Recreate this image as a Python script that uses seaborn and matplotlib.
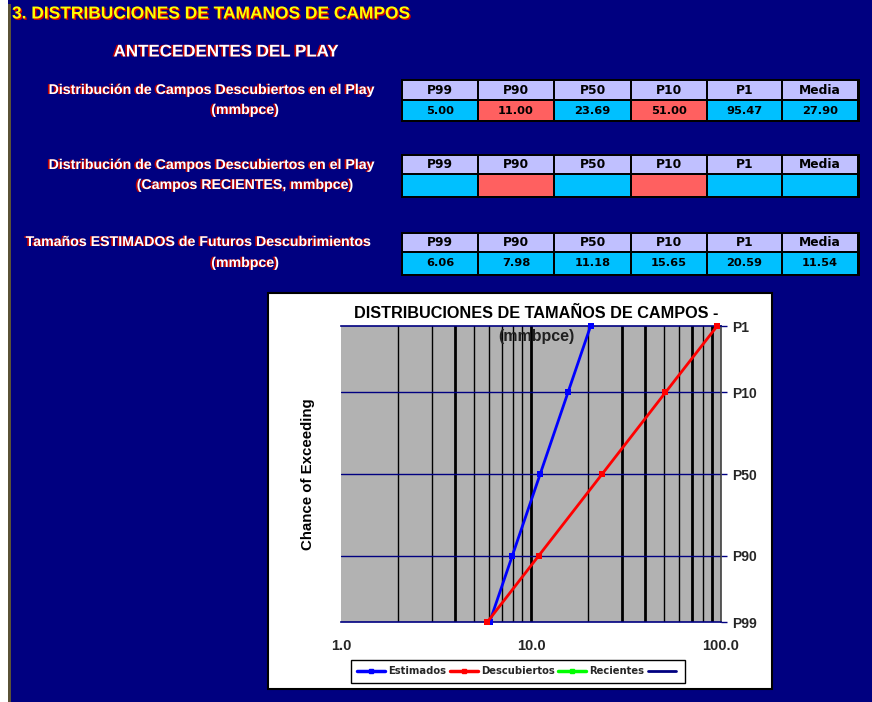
import matplotlib
matplotlib.use("Agg")
import numpy as np
import pandas as pd
import seaborn as sns
import matplotlib.pyplot as plt
from matplotlib.patches import Rectangle
from matplotlib.lines import Line2D
import matplotlib.patheffects as pe
from statistics import NormalDist

# ---------------- data ----------------
headers = ["P99", "P90", "P50", "P10", "P1", "Media"]
descubiertos_tabla = ["5.00", "11.00", "23.69", "51.00", "95.47", "27.90"]
recientes_tabla = ["", "", "", "", "", ""]
estimados_tabla = ["6.06", "7.98", "11.18", "15.65", "20.59", "11.54"]

percentiles = [99, 90, 50, 10, 1]
estimados = [6.06, 7.98, 11.18, 15.65, 20.59]
descubiertos = [5.89, 11.00, 23.69, 51.00, 95.47]
recientes = []

series_names = ["Estimados", "Descubiertos", "Recientes"]
x_tick_labels = ["1.0", "10.0", "100.0"]
y_tick_labels = ["P1", "P10", "P50", "P90", "P99"]

# ---------------- style ----------------
sns.set_theme(style="white")
plt.rcParams["font.family"] = ["Liberation Sans", "DejaVu Sans"]

NAVY = "#000080"
CYAN = "#00C0FF"
RED = "#FF6060"
LAV = "#C0C0FF"
WIDE = ["DejaVu Sans"]

W, H = 872, 702
fig = plt.figure(figsize=(W / 100, H / 100), dpi=100, facecolor=NAVY)

bg = fig.add_axes([0, 0, 1, 1])
bg.set_xlim(0, W)
bg.set_ylim(H, 0)
bg.axis("off")
bg.set_facecolor(NAVY)

# left strip
bg.add_patch(Rectangle((0, 0), 8, H, facecolor="white", edgecolor="none"))
bg.add_patch(Rectangle((8, 4), 2.5, H, facecolor="#5A5236", edgecolor="none"))

shadow_red = [pe.withSimplePatchShadow(offset=(-1.2, 0), shadow_rgbFace="#C00000", alpha=1.0)]

bg.text(12, 14, "3. DISTRIBUCIONES DE TAMANOS DE CAMPOS", color="#FFFF00",
        fontsize=12.5, fontweight="bold", va="center", ha="left",
        path_effects=[pe.withSimplePatchShadow(offset=(1, -1), shadow_rgbFace="#D00000", alpha=1.0)])
bg.text(226, 52, "ANTECEDENTES DEL PLAY", color="white", fontsize=12.2,
        fontweight="bold", va="center", ha="center", path_effects=shadow_red)

label_kw = dict(color="white", fontsize=10.2, fontweight="bold", va="center", ha="center",
                path_effects=shadow_red)
bg.text(211, 90, "Distribución de Campos Descubiertos en el Play", **label_kw)
bg.text(245, 110, "(mmbpce)", **label_kw)
bg.text(211, 165, "Distribución de Campos Descubiertos en el Play", **label_kw)
bg.text(245, 185, "(Campos RECIENTES, mmbpce)", **label_kw)
bg.text(198, 242, "Tamaños ESTIMADOS de Futuros Descubrimientos", **label_kw)
bg.text(245, 263, "(mmbpce)", **label_kw)

col_edges = [402, 478, 554, 631, 707, 782, 858]
cell_cols_a = [CYAN, RED, CYAN, RED, CYAN, CYAN]
cell_cols_b = [CYAN] * 6


def draw_table(top, mid, bot, values, colors):
    bg.add_patch(Rectangle((col_edges[0] - 1.5, top - 1.5), col_edges[-1] - col_edges[0] + 3,
                           bot - top + 3, facecolor="black", edgecolor="none"))
    for i in range(6):
        x0, x1 = col_edges[i], col_edges[i + 1]
        bg.add_patch(Rectangle((x0 + 1, top + 0.5), x1 - x0 - 2, mid - top - 1.5,
                               facecolor=LAV, edgecolor="none"))
        bg.add_patch(Rectangle((x0 + 1, mid + 1), x1 - x0 - 2, bot - mid - 1.5,
                               facecolor=colors[i], edgecolor="none"))
        bg.text((x0 + x1) / 2, (top + mid) / 2 + 0.5, headers[i], fontsize=8.8,
                fontweight="bold", ha="center", va="center", color="black", family=WIDE)
        bg.text((x0 + x1) / 2, (mid + bot) / 2 + 0.5, values[i], fontsize=8.2,
                fontweight="bold", ha="center", va="center", color="black", family=WIDE)


draw_table(80, 100, 120, descubiertos_tabla, cell_cols_a)
draw_table(155, 174, 196, recientes_tabla, cell_cols_a)
draw_table(233, 252, 274, estimados_tabla, cell_cols_b)

# chart box
bg.add_patch(Rectangle((268, 293), 504, 396, facecolor="white", edgecolor="black", linewidth=1.5))

# ---------------- plot ----------------
nd = NormalDist()


def z_of(p):
    return nd.inv_cdf(1 - p / 100.0)


rows = []
for p, v in zip(percentiles, estimados):
    rows.append(("Estimados", v, z_of(p)))
for p, v in zip(percentiles, descubiertos):
    rows.append(("Descubiertos", v, z_of(p)))
for p, v in zip(percentiles, recientes):
    rows.append(("Recientes", v, z_of(p)))
df = pd.DataFrame(rows, columns=["serie", "tamano", "z"])

px0, px1, py0, py1 = 341, 721, 326, 622
ax = fig.add_axes([px0 / W, 1 - py1 / H, (px1 - px0) / W, (py1 - py0) / H])
ax.set_facecolor("#B2B2B2")

palette = {"Estimados": "#0000FF", "Descubiertos": "#FF0000", "Recientes": "#00FF00"}
sns.lineplot(data=df, x="tamano", y="z", hue="serie", hue_order=["Estimados", "Descubiertos"],
             palette=palette, marker="s", markersize=5, markeredgewidth=0, linewidth=2,
             ax=ax, legend=False, sort=False, estimator=None, clip_on=False, zorder=5)

ax.set_xscale("log")
ax.set_xlim(1, 100)
zmax = z_of(1)
ax.set_ylim(-zmax, zmax)

ax.set_xticks([1, 10, 100])
ax.set_xticklabels(x_tick_labels)
minor = [2, 3, 4, 5, 6, 7, 8, 9, 20, 30, 40, 50, 60, 70, 80, 90]
ax.set_xticks(minor, minor=True)
ax.xaxis.set_minor_formatter(matplotlib.ticker.NullFormatter())
thick = {4, 10, 30, 40, 70, 90}
for v in minor + [10]:
    ax.axvline(v, color="black", linewidth=2.0 if v in thick else 1.0, zorder=1)
for p in [10, 50, 90]:
    ax.axhline(z_of(p), color=NAVY, linewidth=1.0, zorder=2)

ax.tick_params(axis="x", which="major", direction="out", length=5, width=1, color=NAVY,
               labelsize=10.5, pad=7)
ax.tick_params(axis="x", which="minor", length=0)
for t in ax.get_xticklabels():
    t.set_fontweight("bold")

ax.set_yticks([z_of(p) for p in [1, 10, 50, 90, 99]])
ax.set_yticklabels(y_tick_labels)
ax.yaxis.tick_right()
ax.tick_params(axis="y", which="major", direction="out", length=4, width=1, color=NAVY,
               labelsize=10, pad=4)
for t in ax.get_yticklabels():
    t.set_fontweight("bold")

ax.spines["left"].set_visible(False)
ax.spines["top"].set_color(NAVY)
ax.spines["bottom"].set_color(NAVY)
ax.spines["right"].set_color("#404040")
for s in ["top", "bottom", "right"]:
    ax.spines[s].set_linewidth(1.2)

ax.set_xlabel("")
ax.set_ylabel("")

# chart title & labels
bg.text(536, 313, "DISTRIBUCIONES DE TAMAÑOS DE CAMPOS -", fontsize=11.7, fontweight="bold",
        ha="center", va="center", color="black", zorder=10)
fig.text(536 / W, 1 - 337 / H, "(mmbpce)", fontsize=11.5, fontweight="bold",
         ha="center", va="center", color="#202020", zorder=10)
bg.text(308, 474, "Chance of Exceeding", fontsize=10.8, fontweight="bold", rotation=90,
        ha="center", va="center", color="black")

# legend
handles = [
    Line2D([], [], color="#0000FF", linewidth=2.5, marker="s", markersize=3),
    Line2D([], [], color="#FF0000", linewidth=2.5, marker="s", markersize=3),
    Line2D([], [], color="#00FF00", linewidth=2.5, marker="s", markersize=3),
    Line2D([], [], color=NAVY, linewidth=2),
]
leg = fig.legend(handles, series_names + [""], loc="center", bbox_to_anchor=(518 / W, 1 - 671 / H),
                 ncol=4, frameon=True, fancybox=False, edgecolor="black", framealpha=1,
                 prop={"weight": "bold", "size": 7.2, "family": WIDE}, handlelength=2.8,
                 handletextpad=0.3, columnspacing=0.35, borderpad=0.65)
leg.get_frame().set_linewidth(1.0)

fig.savefig("out.png", dpi=100, facecolor=NAVY)
